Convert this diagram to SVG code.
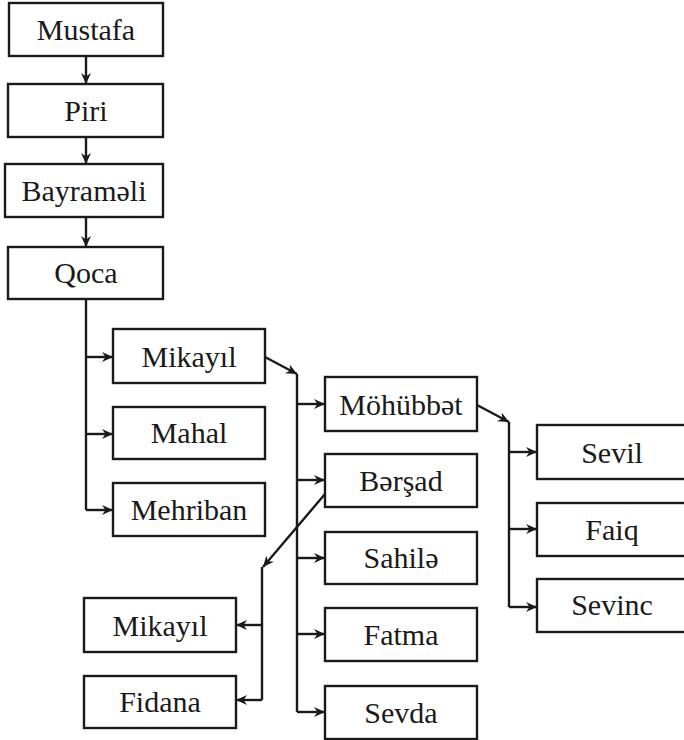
<svg xmlns="http://www.w3.org/2000/svg" width="684" height="740" viewBox="0 0 684 740">
<style>
.box{fill:#fff;stroke:#1a1a1a;stroke-width:2.4}
.t{font-family:'Liberation Serif','Times New Roman','DejaVu Serif',serif;font-size:30px;fill:#1a1a1a;text-anchor:middle}
.c{fill:none;stroke:#1a1a1a;stroke-width:2.4;marker-end:url(#ah)}
.l{fill:none;stroke:#1a1a1a;stroke-width:2.4}
</style>
<defs>
<marker id="ah" markerUnits="userSpaceOnUse" markerWidth="14" markerHeight="12" refX="11" refY="5" orient="auto">
<path d="M0,0 L11,5 L0,10 L3.5,5 z" fill="#1a1a1a"/>
</marker>
</defs>
<rect width="684" height="740" fill="#fff"/>
<g id="connectors">
<path class="c" d="M86,56 V84"/>
<path class="c" d="M86,137 V164"/>
<path class="c" d="M86,217 V247"/>
<path class="l" d="M86,299 V510"/>
<path class="c" d="M86,357 H113"/>
<path class="c" d="M86,434 H113"/>
<path class="c" d="M86,510 H113"/>
<path class="c" d="M265,357 L297,374"/>
<path class="l" d="M297,374 V712"/>
<path class="c" d="M297,404 H325"/>
<path class="c" d="M297,480 H325"/>
<path class="c" d="M297,558 H325"/>
<path class="c" d="M297,634 H325"/>
<path class="c" d="M297,712 H325"/>
<path class="c" d="M477,405 L509,422"/>
<path class="l" d="M509,422 V607"/>
<path class="c" d="M509,452 H537"/>
<path class="c" d="M509,529 H537"/>
<path class="c" d="M509,607 H537"/>
<path class="c" d="M325,494 L263,567"/>
<path class="l" d="M262,567 V700"/>
<path class="c" d="M262,625 H236"/>
<path class="c" d="M262,700 H236"/>
</g>
<g font-family="Liberation Serif, Times New Roman, DejaVu Serif, serif">
<g id="mustafa"><rect class="box" x="9" y="3" width="154" height="53"/><text class="t" x="86" y="40">Mustafa</text></g>
<g id="piri"><rect class="box" x="8" y="84" width="155" height="53"/><text class="t" x="86" y="121">Piri</text></g>
<g id="bayrameli"><rect class="box" x="5" y="164" width="158" height="53"/><text class="t" x="84" y="201">Bayraməli</text></g>
<g id="qoca"><rect class="box" x="8" y="247" width="155" height="52"/><text class="t" x="86" y="283">Qoca</text></g>
<g id="mikayil"><rect class="box" x="113" y="329" width="152" height="54"/><text class="t" x="189" y="367">Mikayıl</text></g>
<g id="mahal"><rect class="box" x="113" y="407" width="152" height="52"/><text class="t" x="189" y="443">Mahal</text></g>
<g id="mehriban"><rect class="box" x="113" y="483" width="152" height="53"/><text class="t" x="189" y="520">Mehriban</text></g>
<g id="mohubbet"><rect class="box" x="325" y="377" width="152" height="54"/><text class="t" x="401" y="415">Möhübbət</text></g>
<g id="bershad"><rect class="box" x="325" y="454" width="152" height="53"/><text class="t" x="401" y="491">Bərşad</text></g>
<g id="sahile"><rect class="box" x="325" y="532" width="152" height="52"/><text class="t" x="401" y="568">Sahilə</text></g>
<g id="fatma"><rect class="box" x="325" y="608" width="152" height="53"/><text class="t" x="401" y="645">Fatma</text></g>
<g id="sevda"><rect class="box" x="325" y="686" width="152" height="53"/><text class="t" x="401" y="723">Sevda</text></g>
<g id="sevil"><rect class="box" x="537" y="425" width="160" height="54"/><text class="t" x="612" y="463">Sevil</text></g>
<g id="faiq"><rect class="box" x="537" y="503" width="160" height="53"/><text class="t" x="612" y="540">Faiq</text></g>
<g id="sevinc"><rect class="box" x="537" y="579" width="160" height="53"/><text class="t" x="612" y="615">Sevinc</text></g>
<g id="mikayil2"><rect class="box" x="84" y="598" width="152" height="54"/><text class="t" x="160" y="636">Mikayıl</text></g>
<g id="fidana"><rect class="box" x="84" y="676" width="152" height="52"/><text class="t" x="160" y="712">Fidana</text></g>
</g>
</svg>
